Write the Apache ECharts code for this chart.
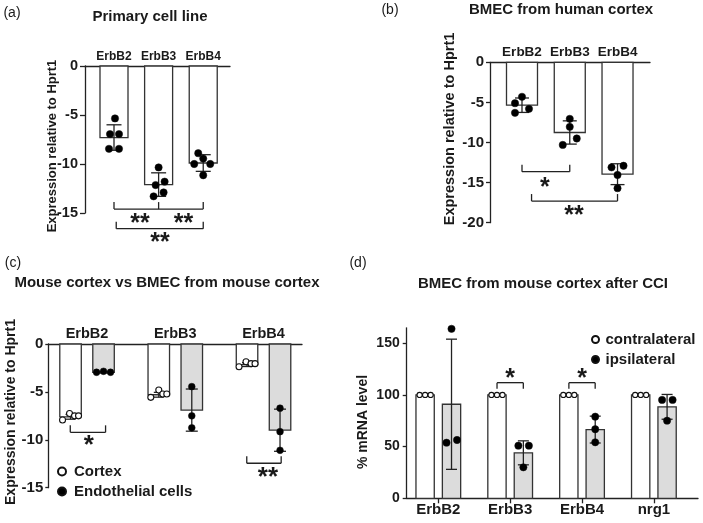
<!DOCTYPE html>
<html><head><meta charset="utf-8">
<script src="https://cdn.jsdelivr.net/npm/echarts@6/dist/echarts.min.js"></script>
<style>html,body{margin:0;padding:0;background:#fff}#c{width:703px;height:523px}</style>
</head><body><div id="c"></div>
<script>
// ---------------- data ----------------
// (a) Primary cell line
const aCategories = ['ErbB2', 'ErbB3', 'ErbB4'];
const aMean = [-7.3, -12.1, -9.9];
const aSD = [1.3, 1.2, 0.85];
const aPoints = [[-5.35, -6.95, -6.95, -8.45, -8.45], [-10.35, -12.15, -11.8, -13.3, -12.9], [-8.9, -10.0, -9.45, -10.0, -11.15]];
const aTicks = [0, -5, -10, -15];
const aBracketX = [[1, 2, 3], [1.05, 3]];
const aBracketY = [-14.6, -16.6];
const aStarText = ['**', '**', '**'];
const aStarX = [1.58, 2.56, 2.03];
const aStarY = [-15.5, -15.5, -17.42];

// (b) BMEC from human cortex
const bCategories = ['ErbB2', 'ErbB3', 'ErbB4'];
const bMean = [-5.35, -8.75, -13.95];
const bSD = [0.9, 1.45, 1.3];
const bPoints = [[-4.3, -5.1, -5.8, -6.3], [-7.05, -8.05, -9.5, -10.3], [-13.1, -12.9, -14.05, -15.7]];
const bTicks = [0, -5, -10, -15, -20];
const bBracketX = [[1, 2], [1.2, 3]];
const bBracketY = [-13.64, -17.3];
const bStarText = ['*', '**'];
const bStarX = [1.48, 2.09];
const bStarY = [-14.93, -18.4];

// (c) Mouse cortex vs BMEC from mouse cortex
const cCategories = ['ErbB2', 'ErbB3', 'ErbB4'];
const cCortexMean = [-7.6, -5.3, -2.15];
const cCortexSD = [0.25, 0.25, 0.2];
const cCortexPoints = [[-7.93, -7.25, -7.5, -7.5], [-5.57, -4.8, -5.22, -5.22], [-2.37, -1.85, -2.05, -2.05]];
const cEndoMean = [-2.95, -6.9, -9.0];
const cEndoSD = [0.08, 2.2, 2.2];
const cEndoPoints = [[-2.95, -2.85, -2.95], [-4.45, -7.5, -8.75], [-6.7, -9.15, -11.1]];
const cTicks = [0, -5, -10, -15];
const cBracketX = [[0.81, 1.21], [2.81, 3.2]];
const cBracketY = [-9.22, -12.45];
const cStarText = ['*', '**'];
const cStarX = [1.02, 3.05];
const cStarY = [-10.02, -13.33];

// (d) BMEC from mouse cortex after CCI
const dCategories = ['ErbB2', 'ErbB3', 'ErbB4', 'nrg1'];
const dContraMean = [100, 100, 100, 100];
const dContraPoints = [[100, 100, 100], [100, 100, 100], [100, 100, 100], [100, 100, 100]];
const dIpsiMean = [91, 44, 66.5, 88.5];
const dIpsiSD = [63, 11.6, 13, 12];
const dIpsiPoints = [[164, 53.8, 56.4], [50.9, 50.9, 30], [79, 66.8, 54.2], [95.2, 95.2, 75.1]];
const dTicks = [0, 50, 100, 150];
const dBracketX = [[0.817, 1.183], [1.817, 2.183]];
const dBracketY = [111.9, 111.9];
const dStarText = ['*', '*'];
const dStarX = [1, 2];
const dStarY = [121, 121];

// ---------------- styling helpers ----------------
const FF = "'Liberation Sans', Arial, Helvetica, sans-serif";
const INK = '#1a1a1a';
const LINE = {color: '#222', width: 1.3};

function barSeries(g, means, sds, base, offset, width, cap, fill) {
  return {
    type: 'custom', xAxisIndex: g, yAxisIndex: g, z: 2, silent: true, clip: false,
    data: means.map((m, i) => [i + base, m, sds ? sds[i] : 0]),
    renderItem(params, api) {
      const x = api.value(0), m = api.value(1), sd = api.value(2);
      const p0 = api.coord([x, 0]), p1 = api.coord([x, m]);
      const cx = p0[0] + offset;
      const ch = [{
        type: 'rect',
        shape: {x: cx - width / 2, y: Math.min(p0[1], p1[1]), width: width, height: Math.abs(p1[1] - p0[1])},
        style: {fill: fill, stroke: '#333', lineWidth: 1.3}
      }];
      if (sd > 0) {
        const yh = api.coord([x, m + sd])[1], yl = api.coord([x, m - sd])[1];
        const s = {stroke: '#222', lineWidth: 1.3};
        ch.push({type: 'line', shape: {x1: cx, y1: yh, x2: cx, y2: yl}, style: s});
        ch.push({type: 'line', shape: {x1: cx - cap, y1: yh, x2: cx + cap, y2: yh}, style: s});
        ch.push({type: 'line', shape: {x1: cx - cap, y1: yl, x2: cx + cap, y2: yl}, style: s});
      }
      return {type: 'group', children: ch};
    }
  };
}

function pointSeries(g, name, pts, base, offset, jit, size, fill) {
  const data = [];
  pts.forEach((arr, i) => arr.forEach((v, j) => {
    data.push({value: [i + base, v], symbolOffset: [offset + jit[i][j], 0]});
  }));
  return {
    type: 'scatter', name: name, xAxisIndex: g, yAxisIndex: g, z: 5, clip: false, silent: true,
    symbol: 'circle', symbolSize: size,
    itemStyle: {color: fill, borderColor: '#111', borderWidth: fill === '#fff' ? 1.1 : 0.5, opacity: 1},
    data: data
  };
}

function bracketSeries(g, xsList, ys, dir, len) {
  return {
    type: 'custom', xAxisIndex: g, yAxisIndex: g, z: 4, silent: true, clip: false,
    data: xsList.map((xs, i) => [xs[0], ys[i]]),
    renderItem(params, api) {
      const xs = xsList[params.dataIndex], y = ys[params.dataIndex];
      const pts = xs.map(x => api.coord([x, y]));
      const s = {stroke: '#222', lineWidth: 1.3};
      const ch = [{type: 'line', shape: {x1: pts[0][0], y1: pts[0][1], x2: pts[pts.length - 1][0], y2: pts[0][1]}, style: s}];
      pts.forEach(p => ch.push({type: 'line', shape: {x1: p[0], y1: p[1], x2: p[0], y2: p[1] + dir * len}, style: s}));
      return {type: 'group', children: ch};
    }
  };
}

function starSeries(g, xs, ys, texts, size) {
  return {
    type: 'custom', xAxisIndex: g, yAxisIndex: g, z: 4, silent: true, clip: false,
    data: xs.map((x, i) => [x, ys[i]]),
    renderItem(params, api) {
      const p = api.coord([api.value(0), api.value(1)]);
      return {
        type: 'text', x: p[0], y: p[1] + size * 0.24,
        style: {text: texts[params.dataIndex], fontSize: size, fontWeight: 'bold', fontFamily: FF, fill: INK,
          align: 'center', verticalAlign: 'middle'}
      };
    }
  };
}

function yAxisCfg(g, min, max, interval, ticks, fontSize, margin, tickLen) {
  return {
    gridIndex: g, type: 'value', min: min, max: max, interval: interval,
    axisLine: {show: true, onZero: false, lineStyle: LINE},
    axisTick: {show: true, length: tickLen, lineStyle: LINE, customValues: ticks},
    axisLabel: {customValues: ticks, fontSize: fontSize, fontWeight: 'bold', color: INK, margin: margin, fontFamily: FF},
    splitLine: {show: false}
  };
}

function xAxisTopCfg(g, min, max, cats, fontSize) {
  return {
    gridIndex: g, type: 'value', min: min, max: max, position: 'top',
    axisLine: {show: true, onZero: false, lineStyle: LINE},
    axisTick: {show: false},
    axisLabel: {customValues: cats.map((c, i) => i + 1), formatter: v => cats[Math.round(v) - 1] || '',
      fontSize: fontSize, fontWeight: 'bold', color: INK, margin: 3, fontFamily: FF},
    splitLine: {show: false}
  };
}

function txt(x, y, s, size, weight, rot) {
  return {
    type: 'text', x: x, y: y, rotation: rot || 0, silent: true,
    style: {text: s, fontSize: size, fontWeight: weight, fontFamily: FF, fill: INK,
      align: 'center', verticalAlign: 'middle', textAlign: 'center', textVerticalAlign: 'middle'}
  };
}

const jitA = [[1, -4, 5, -5, 5], [0, -3, 6, -5, 5], [-5, -9, 0, 7, 0]];
const jitB = [[0, -7, 7, -7], [0, 0, 7, -7], [-6, 6, 0, 0]];
const jitCc = [[-8, -1, 4, 8], [-8, 0, 4, 8], [-8, -1, 4, 8]];
const jitCe = [[-7, 0, 7], [0, 0, 0], [0, 0, 0]];
const jitDc = [[-5.5, 0, 5.5], [-5.5, 0, 5.5], [-5.5, 0, 5.5], [-5.5, 0, 5.5]];
const jitDi = [[0, -5, 5.5], [-5, 5.5, 0], [0, 0, 0], [-5, 5.5, 0]];

const option = {
  animation: false,
  backgroundColor: '#fff',
  textStyle: {fontFamily: FF},
  grid: [
    {left: 85, top: 66, width: 145, height: 147},
    {left: 490, top: 62.3, width: 160, height: 160.4},
    {left: 48.3, top: 344, width: 253.7, height: 143.7},
    {left: 406.7, top: 327.8, width: 291.3, height: 170.5}
  ],
  xAxis: [
    xAxisTopCfg(0, 0.35, 3.6, aCategories, 12),
    xAxisTopCfg(1, 0.33, 3.68, bCategories, 13.5),
    xAxisTopCfg(2, 0.561, 3.436, cCategories, 14.5),
    {
      gridIndex: 3, type: 'value', min: -0.44, max: 3.614, position: 'bottom',
      axisLine: {show: true, onZero: false, lineStyle: LINE},
      axisTick: {show: true, length: 5, lineStyle: LINE, customValues: dCategories.map((c, i) => i)},
      axisLabel: {customValues: dCategories.map((c, i) => i), formatter: v => dCategories[Math.round(v)] || '',
        fontSize: 15, fontWeight: 'bold', color: INK, margin: 4, fontFamily: FF},
      splitLine: {show: false}
    }
  ],
  yAxis: [
    yAxisCfg(0, -15, 0, 5, aTicks, 14.5, 7, 5),
    yAxisCfg(1, -20, 0, 5, bTicks, 15, 6, 4),
    yAxisCfg(2, -15, 0, 5, cTicks, 15, 5, 3),
    yAxisCfg(3, 0, 165, 50, dTicks, 14, 7, 4)
  ],
  legend: [
    {data: ['Cortex', 'Endothelial cells'], orient: 'vertical', left: 57, top: 464, padding: 0,
      itemWidth: 14, itemHeight: 8, itemGap: 5, selectedMode: false,
      textStyle: {fontSize: 15, fontWeight: 'bold', color: INK, fontFamily: FF}},
    {data: ['contralateral', 'ipsilateral'], orient: 'vertical', left: 591, top: 332, padding: 0,
      itemWidth: 10, itemHeight: 7, itemGap: 5, selectedMode: false,
      textStyle: {fontSize: 15, fontWeight: 'bold', color: INK, fontFamily: FF}}
  ],
  graphic: [
    txt(150, 17, 'Primary cell line', 15, 'bold'),
    txt(561, 10, 'BMEC from human cortex', 15, 'bold'),
    txt(167, 283, 'Mouse cortex vs BMEC from mouse cortex', 15, 'bold'),
    txt(543, 284, 'BMEC from mouse cortex after CCI', 15, 'bold'),
    txt(12, 13, '(a)', 14, 'normal'),
    txt(390, 10, '(b)', 14, 'normal'),
    txt(13, 263, '(c)', 14, 'normal'),
    txt(358, 263, '(d)', 14, 'normal'),
    txt(52, 146, 'Expression relative to Hprt1', 13, 'bold', Math.PI / 2),
    txt(450, 129, 'Expression relative to Hprt1', 14.5, 'bold', Math.PI / 2),
    txt(11, 412, 'Expression relative to Hprt1', 14, 'bold', Math.PI / 2),
    txt(363, 422, '% mRNA level', 14, 'bold', Math.PI / 2)
  ],
  series: [
    // (a)
    barSeries(0, aMean, aSD, 1, 0, 28, 7.5, '#fff'),
    pointSeries(0, 'a', aPoints, 1, 0, jitA, 7.3, '#000'),
    bracketSeries(0, aBracketX, aBracketY, -1, 7),
    starSeries(0, aStarX, aStarY, aStarText, 25),
    // (b)
    barSeries(1, bMean, bSD, 1, 0, 31, 7, '#fff'),
    pointSeries(1, 'b', bPoints, 1, 0, jitB, 7.3, '#000'),
    bracketSeries(1, bBracketX, bBracketY, -1, 7),
    starSeries(1, bStarX, bStarY, bStarText, 25),
    // (c)
    barSeries(2, cCortexMean, cCortexSD, 1, -16.5, 21.5, 5, '#fff'),
    barSeries(2, cEndoMean, cEndoSD, 1, 16.5, 21.5, 6, '#dcdcdc'),
    pointSeries(2, 'Cortex', cCortexPoints, 1, -16.5, jitCc, 6, '#fff'),
    pointSeries(2, 'Endothelial cells', cEndoPoints, 1, 16.5, jitCe, 6.8, '#000'),
    bracketSeries(2, cBracketX, cBracketY, -1, 7),
    starSeries(2, cStarX, cStarY, cStarText, 26),
    // (d)
    barSeries(3, dContraMean, null, 0, -13.2, 18.3, 5, '#fff'),
    barSeries(3, dIpsiMean, dIpsiSD, 0, 13.2, 18.3, 5.5, '#dcdcdc'),
    pointSeries(3, 'contralateral', dContraPoints, 0, -13.2, jitDc, 5.2, '#fff'),
    pointSeries(3, 'ipsilateral', dIpsiPoints, 0, 13.2, jitDi, 7.3, '#000'),
    bracketSeries(3, dBracketX, dBracketY, 1, 6),
    starSeries(3, dStarX, dStarY, dStarText, 25)
  ]
};

const chart = echarts.init(document.getElementById('c'), null, {renderer: 'canvas'});
chart.setOption(option);
</script>
</body></html>
